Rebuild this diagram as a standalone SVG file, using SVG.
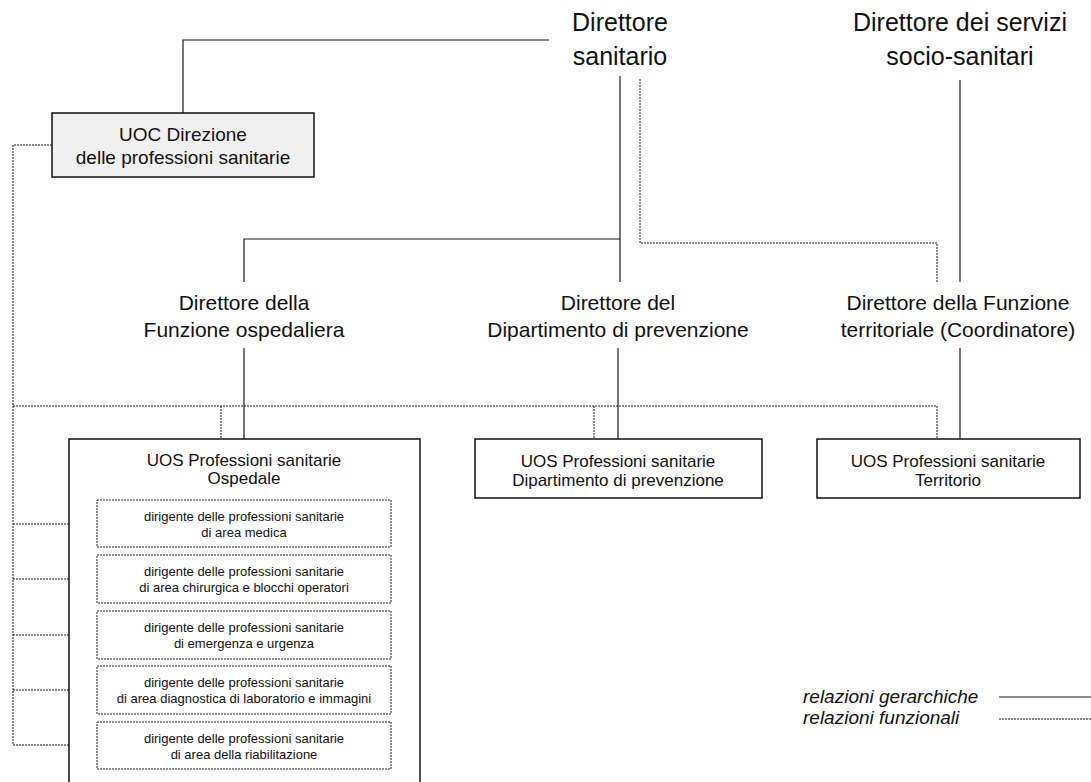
<svg xmlns="http://www.w3.org/2000/svg" width="1091" height="782" viewBox="0 0 1091 782">
  <style>
    text { font-family: "Liberation Sans", Arial, sans-serif; fill: #111; text-anchor: middle; }
    .top { font-size: 25px; }
    .mid { font-size: 21px; }
    .uoc { font-size: 19px; }
    .uos { font-size: 17px; }
    .sub { font-size: 13px; }
    .leg { font-size: 19px; font-style: italic; text-anchor: start; }
    .box { fill: #fff; stroke: #111; stroke-width: 1.5; }
    .boxg { fill: #f0f0f0; stroke: #111; stroke-width: 1.5; }
    .subbox { fill: #fff; stroke: #222; stroke-width: 1; stroke-dasharray: 2 1; }
    .hier { fill: none; stroke: #1a1a1a; stroke-width: 1.2; }
    .func { fill: none; stroke: #1a1a1a; stroke-width: 1; stroke-dasharray: 2 1; }
  </style>

  <!-- connectors -->
  <g id="connectors">
    <!-- hierarchical -->
    <path class="hier" d="M549 40 H183 V113"/>
    <path class="hier" d="M620 76 V282"/>
    <path class="hier" d="M620 239 H244 V282"/>
    <path class="hier" d="M960 80 V282"/>
    <path class="hier" d="M244 348 V439"/>
    <path class="hier" d="M618 348 V439"/>
    <path class="hier" d="M960 348 V439"/>
    <!-- functional -->
    <path class="func" d="M640 79 V243 H937 V282"/>
    <path class="func" d="M52 145 H13 V745"/>
    <path class="func" d="M13 406 H937 V439"/>
    <path class="func" d="M221 406 V439"/>
    <path class="func" d="M594 406 V439"/>
    <path class="func" d="M13 524 H97"/>
    <path class="func" d="M13 579 H97"/>
    <path class="func" d="M13 635 H97"/>
    <path class="func" d="M13 690 H97"/>
    <path class="func" d="M13 745 H97"/>
  </g>

  <g id="direttore-sanitario">
    <text class="top" x="620" y="31">Direttore</text>
    <text class="top" x="620" y="65">sanitario</text>
  </g>

  <g id="direttore-socio-sanitari">
    <text class="top" x="960" y="31">Direttore dei servizi</text>
    <text class="top" x="960" y="65">socio-sanitari</text>
  </g>

  <g id="uoc-direzione">
    <rect class="boxg" x="52" y="113" width="262" height="64"/>
    <text class="uoc" x="183" y="141">UOC Direzione</text>
    <text class="uoc" x="183" y="164">delle professioni sanitarie</text>
  </g>

  <g id="direttore-ospedaliera">
    <text class="mid" x="244" y="310">Direttore della</text>
    <text class="mid" x="244" y="337">Funzione ospedaliera</text>
  </g>

  <g id="direttore-prevenzione">
    <text class="mid" x="618" y="310">Direttore del</text>
    <text class="mid" x="618" y="337">Dipartimento di prevenzione</text>
  </g>

  <g id="direttore-territoriale">
    <text class="mid" x="958" y="310">Direttore della Funzione</text>
    <text class="mid" x="958" y="337">territoriale (Coordinatore)</text>
  </g>

  <g id="uos-ospedale">
    <rect class="box" x="69" y="439" width="351" height="360"/>
    <text class="uos" x="244" y="466">UOS Professioni sanitarie</text>
    <text class="uos" x="244" y="484">Ospedale</text>
  </g>

  <g id="dirigente-medica">
    <rect class="subbox" x="97" y="500" width="294" height="47"/>
    <text class="sub" x="244" y="521">dirigente delle professioni sanitarie</text>
    <text class="sub" x="244" y="537">di area medica</text>
  </g>

  <g id="dirigente-chirurgica">
    <rect class="subbox" x="97" y="555" width="294" height="48"/>
    <text class="sub" x="244" y="576">dirigente delle professioni sanitarie</text>
    <text class="sub" x="244" y="592">di area chirurgica e blocchi operatori</text>
  </g>

  <g id="dirigente-emergenza">
    <rect class="subbox" x="97" y="611" width="294" height="48"/>
    <text class="sub" x="244" y="632">dirigente delle professioni sanitarie</text>
    <text class="sub" x="244" y="648">di emergenza e urgenza</text>
  </g>

  <g id="dirigente-diagnostica">
    <rect class="subbox" x="97" y="666" width="294" height="48"/>
    <text class="sub" x="244" y="687">dirigente delle professioni sanitarie</text>
    <text class="sub" x="244" y="703">di area diagnostica di laboratorio e immagini</text>
  </g>

  <g id="dirigente-riabilitazione">
    <rect class="subbox" x="97" y="722" width="294" height="47"/>
    <text class="sub" x="244" y="743">dirigente delle professioni sanitarie</text>
    <text class="sub" x="244" y="759">di area della riabilitazione</text>
  </g>

  <g id="uos-prevenzione">
    <rect class="box" x="475" y="439" width="287" height="59"/>
    <text class="uos" x="618" y="467">UOS Professioni sanitarie</text>
    <text class="uos" x="618" y="486">Dipartimento di prevenzione</text>
  </g>

  <g id="uos-territorio">
    <rect class="box" x="817" y="439" width="263" height="59"/>
    <text class="uos" x="948" y="467">UOS Professioni sanitarie</text>
    <text class="uos" x="948" y="486">Territorio</text>
  </g>

  <g id="legend">
    <text class="leg" x="803" y="703">relazioni gerarchiche</text>
    <text class="leg" x="803" y="724">relazioni funzionali</text>
    <path class="hier" d="M999 697 H1091"/>
    <path class="func" d="M999 719 H1091" stroke-width="0.8"/>
  </g>
</svg>
